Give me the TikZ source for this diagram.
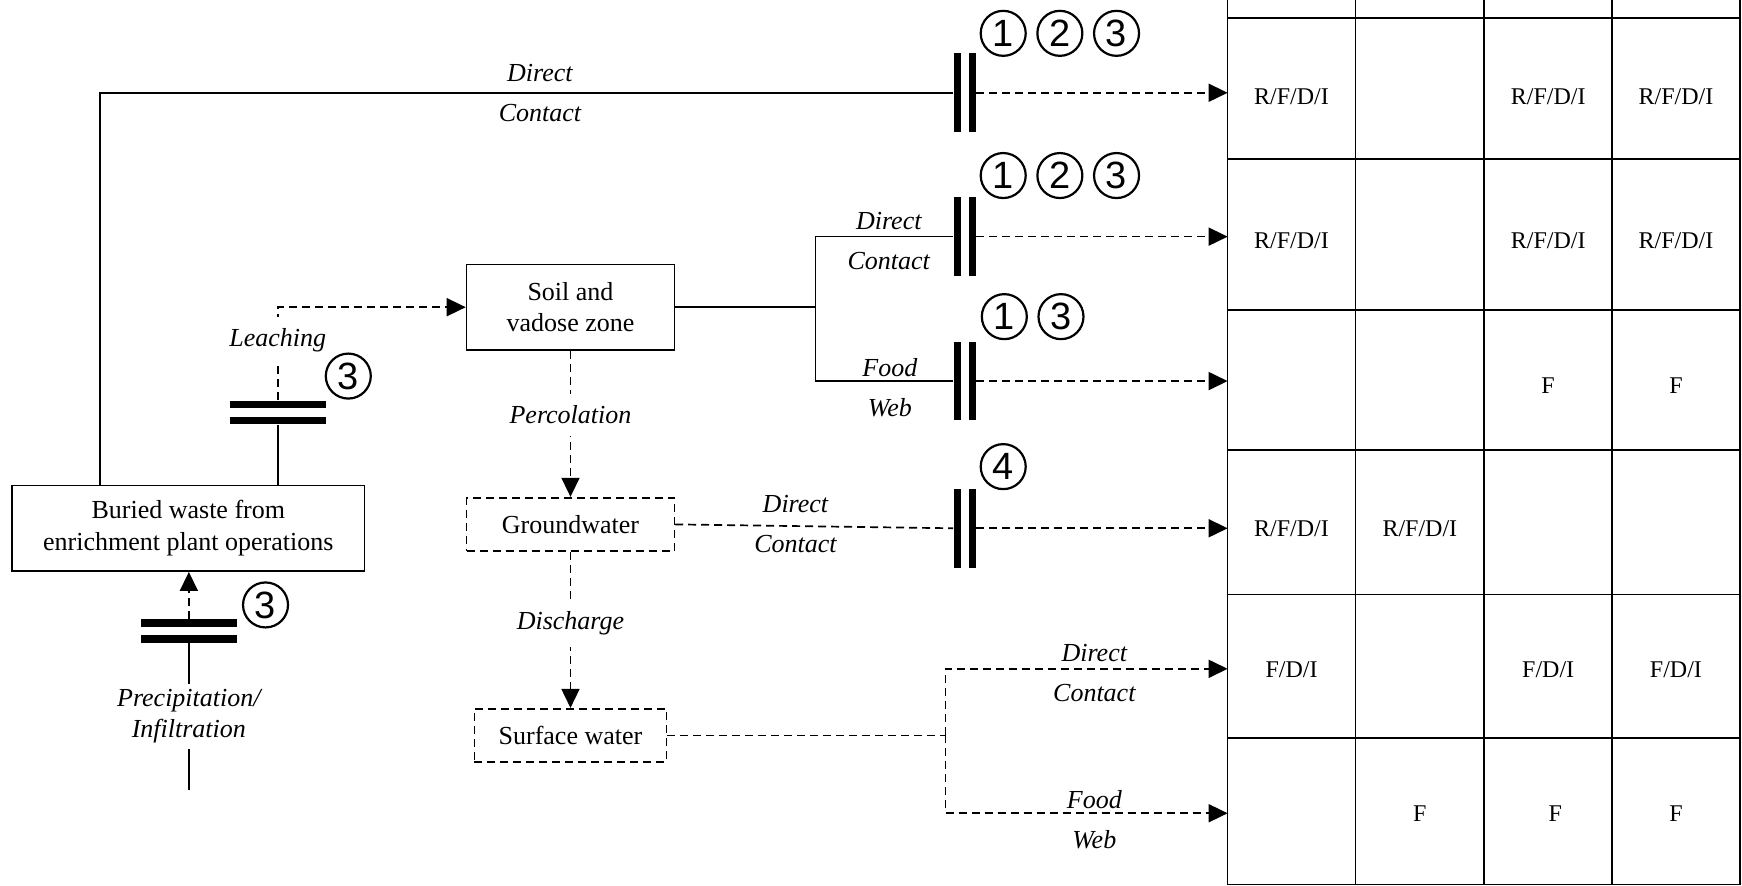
\documentclass[tikz,border=0pt]{standalone}
\usepackage{fontspec}
\setmainfont{Liberation Serif}
\newfontfamily\digfont{Liberation Sans}
\usetikzlibrary{arrows.meta,calc}

\begin{document}
\begin{tikzpicture}[x=0.5555pt,y=-0.5555pt,
  >={Triangle[length=9.5pt,width=9pt]},
  box/.style={draw,line width=0.85pt,inner sep=0pt,align=center,font=\fontsize{13}{15.8}\selectfont},
  dbox/.style={box,dash pattern=on 4pt off 2.5pt},
  lbl/.style={font=\fontsize{13}{15.6}\selectfont\itshape,inner sep=1pt,align=center},
  gap/.style={lbl,fill=white,inner ysep=6pt},
  vbar/.style={fill=black,inner sep=0pt,minimum width=3.6pt,minimum height=39.4pt},
  hbar/.style={fill=black,inner sep=0pt,minimum width=47.8pt,minimum height=3.9pt},
  num/.style={draw,circle,line width=1.1pt,minimum size=22.5pt,inner sep=0pt,font=\digfont\fontsize{19}{19}\selectfont},
  cell/.style={font=\fontsize{12}{14}\selectfont,inner sep=0pt},
  conn/.style={line width=0.85pt},
  dconn/.style={line width=0.85pt,dash pattern=on 4pt off 2.5pt}]
  \useasboundingbox (0,0) rectangle (1568,797);

  % Source and media
  \node[box,minimum width=176.1pt,minimum height=42.8pt] (buried) at (169.5,475.5) {Buried waste from\\enrichment plant operations};
  \node[box,minimum width=103.9pt,minimum height=42.8pt] (soil) at (513.5,276.5) {Soil and\\vadose zone};
  \node[dbox,minimum width=103.9pt,minimum height=26.7pt] (ground) at (513.5,472) {Groundwater};
  \node[dbox,minimum width=96.1pt,minimum height=26.7pt] (surface) at (513.5,662) {Surface water};

  % Barriers
  \node[vbar] (bar1a) at (861.5,83.5) {};
  \node[vbar] (bar1b) at (875,83.5) {};
  \node[vbar] (bar2a) at (861.5,213) {};
  \node[vbar] (bar2b) at (875,213) {};
  \node[vbar] (bar3a) at (861.5,343) {};
  \node[vbar] (bar3b) at (875,343) {};
  \node[vbar] (bar4a) at (861.5,475.5) {};
  \node[vbar] (bar4b) at (875,475.5) {};
  \node[hbar] (hb1a) at (250,364) {};
  \node[hbar] (hb1b) at (250,378.5) {};
  \node[hbar] (hb2a) at (170,561) {};
  \node[hbar] (hb2b) at (170,575) {};

  \node[num] (n1a) at (903,30) {1};
  \node[num] (n1b) at (954,30) {2};
  \node[num] (n1c) at (1005,30) {3};
  \node[num] (n2a) at (903,158) {1};
  \node[num] (n2b) at (954,158) {2};
  \node[num] (n2c) at (1005,158) {3};
  \node[num] (n3a) at (904,285) {1};
  \node[num] (n3b) at (955,285) {3};
  \node[num] (n4) at (903,420) {4};
  \node[num] (n5) at (313.5,338.5) {3};
  \node[num] (n6) at (239,544.5) {3};

  \coordinate (rain) at (170,711);
  \coordinate (split) at (734,276.5);
  \coordinate (swsplit) at (851,662);
  \coordinate (t1) at (1105,83.5);
  \coordinate (t2) at (1105,213);
  \coordinate (t3) at (1105,343);
  \coordinate (t4) at (1105,475.5);
  \coordinate (t5) at (1105,602);
  \coordinate (t6) at (1105,732);

  % Pathways
  \draw[conn] ($(buried.north west)+(80,0)$) |- (bar1a.west);
  \draw[conn] (hb1b.south) -- (hb1b.south |- buried.north);
  \draw[dconn,->] (hb1a.north) |- node[gap,pos=0.32] (leach) {Leaching} (soil.west);
  \draw[conn] (rain) -- node[lbl,fill=white,inner ysep=3pt] (precip) {Precipitation/\\Infiltration} (hb2b.south);
  \draw[dconn,->] (hb2a.north) -- (hb2a.north |- buried.south);
  \draw[conn] (soil.east) -- (split);
  \draw[conn] (bar2a.west) -| (split) |- (bar3a.west);
  \draw[dconn,->] (soil.south) -- node[gap,pos=0.44] (perc) {Percolation} (ground.north);
  \draw[dconn,->] (ground.south) -- node[gap,pos=0.46] (disch) {Discharge} (surface.north);
  \draw[dconn] (ground.east) -- (bar4a.west);
  \draw[dconn] (surface.east) -- (swsplit);
  \draw[dconn,->] (swsplit) |- (t5);
  \draw[dconn,->] (swsplit) |- (t6);
  \draw[dconn,->] (bar1b.east) -- (t1);
  \draw[dconn,->] (bar2b.east) -- (t2);
  \draw[dconn,->] (bar3b.east) -- (t3);
  \draw[dconn,->] (bar4b.east) -- (t4);

  % Route labels
  \node[lbl] (lda) at (486,66) {Direct};
  \node[lbl] (lca) at (486,102) {Contact};
  \node[lbl] (ldb) at (800,199) {Direct};
  \node[lbl] (lcb) at (800,235) {Contact};
  \node[lbl] (lfc) at (801,331) {Food};
  \node[lbl] (lwc) at (801,367) {Web};
  \node[lbl] (ldd) at (716,454) {Direct};
  \node[lbl] (lcd) at (716,490) {Contact};
  \node[lbl] (lde) at (985,588) {Direct};
  \node[lbl] (lce) at (985,624) {Contact};
  \node[lbl] (lff) at (985,720) {Food};
  \node[lbl] (lwf) at (985,756) {Web};

  % Receptor table
  \draw[conn] (1105,0) -- (1105,797);
  \draw[conn] (1220,0) -- (1220,797);
  \draw[conn] (1336,0) -- (1336,797);
  \draw[conn] (1451,0) -- (1451,797);
  \draw[conn] (1566,0) -- (1566,797);
  \draw[conn] (1105,16) -- (1566,16);
  \draw[conn] (1105,143) -- (1566,143);
  \draw[conn] (1105,279) -- (1566,279);
  \draw[conn] (1105,405) -- (1566,405);
  \draw[conn] (1105,535) -- (1566,535);
  \draw[conn] (1105,664) -- (1566,664);
  \draw[conn] (1105,796) -- (1566,796);

  \node[cell] (c11) at (1162.5,87) {R/F/D/I};
  \node[cell] (c13) at (1393.5,87) {R/F/D/I};
  \node[cell] (c14) at (1508.5,87) {R/F/D/I};
  \node[cell] (c21) at (1162.5,217) {R/F/D/I};
  \node[cell] (c23) at (1393.5,217) {R/F/D/I};
  \node[cell] (c24) at (1508.5,217) {R/F/D/I};
  \node[cell] (c33) at (1393.5,347) {F};
  \node[cell] (c34) at (1508.5,347) {F};
  \node[cell] (c41) at (1162.5,476) {R/F/D/I};
  \node[cell] (c42) at (1278,476) {R/F/D/I};
  \node[cell] (c51) at (1162.5,603) {F/D/I};
  \node[cell] (c53) at (1393.5,603) {F/D/I};
  \node[cell] (c54) at (1508.5,603) {F/D/I};
  \node[cell] (c62) at (1278,732) {F};
  \node[cell] (c63) at (1400,732) {F};
  \node[cell] (c64) at (1508.5,732) {F};
\end{tikzpicture}
\end{document}
